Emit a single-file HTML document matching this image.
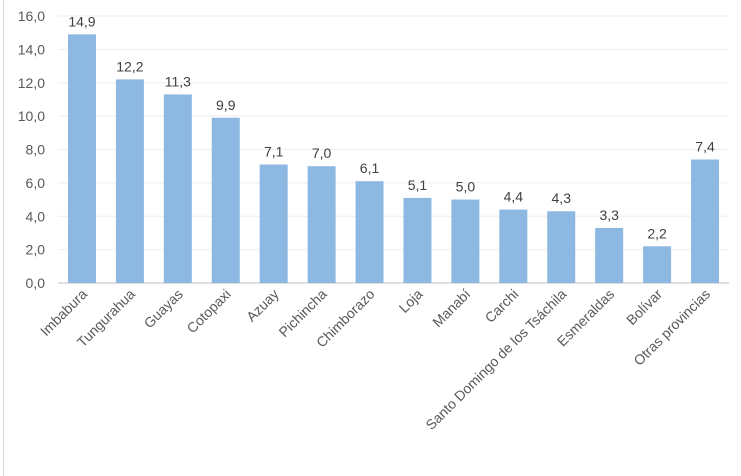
<!DOCTYPE html>
<html><head><meta charset="utf-8"><style>
body{margin:0;background:#fff;}
svg{display:block;font-family:"Liberation Sans",sans-serif;}
</style></head><body>
<svg id="chart" width="741" height="476" viewBox="0 0 741 476">
<rect x="3.5" y="-1" width="740" height="478" fill="none" stroke="#d9d9d9"/>
<g id="grid"></g><g id="bars"></g><g id="labels"></g>
</svg>
<script>
const categories=["Imbabura","Tungurahua","Guayas","Cotopaxi","Azuay","Pichincha","Chimborazo","Loja","Manabí","Carchi","Santo Domingo de los Tsáchila","Esmeraldas","Bolívar","Otras provincias"];
const values=[14.9,12.2,11.3,9.9,7.1,7.0,6.1,5.1,5.0,4.4,4.3,3.3,2.2,7.4];
const yTicks=[0,2,4,6,8,10,12,14,16];
const NS="http://www.w3.org/2000/svg";
const x0=58,x1=729,y0=283,yTop=16,ymax=16;
const y=v=>y0-(v/ymax)*(y0-yTop);
const band=(x1-x0)/categories.length;
const xc=i=>x0+band*(i+0.5);
function mk(t,a,p){const e=document.createElementNS(NS,t);for(const k in a)e.setAttribute(k,a[k]);p.appendChild(e);return e;}
const grid=document.getElementById('grid'),bars=document.getElementById('bars'),labels=document.getElementById('labels');
yTicks.forEach(t=>{
  const l=mk('line',{x1:x0,x2:x1,y1:y(t),y2:y(t),stroke:t===0?'#bfbfbf':'#eeeeee','stroke-width':1},grid);
  
  
  const tx=mk('text',{x:45,y:y(t)+5,'text-anchor':'end','font-size':14,fill:'#595959'},grid);
  tx.textContent=t.toFixed(1).replace('.',',');
  
  
});
values.forEach((v,i)=>{
  const w=28;
  const r=mk('rect',{x:xc(i)-w/2,y:y(v),width:w,height:y0-y(v),fill:'#8cb8e2'},bars);
  
  
  const t=mk('text',{x:xc(i),y:y(v)-8,'text-anchor':'middle','font-size':14,fill:'#404040'},labels);
  t.textContent=v.toFixed(1).replace('.',',');
  
  
  const c=mk('text',{x:0,y:0,'text-anchor':'end','font-size':14,fill:'#595959',transform:`translate(${xc(i)+6},${y0+12}) rotate(-45)`},labels);
  c.textContent=categories[i];
  
  
});
</script>
</body></html>
